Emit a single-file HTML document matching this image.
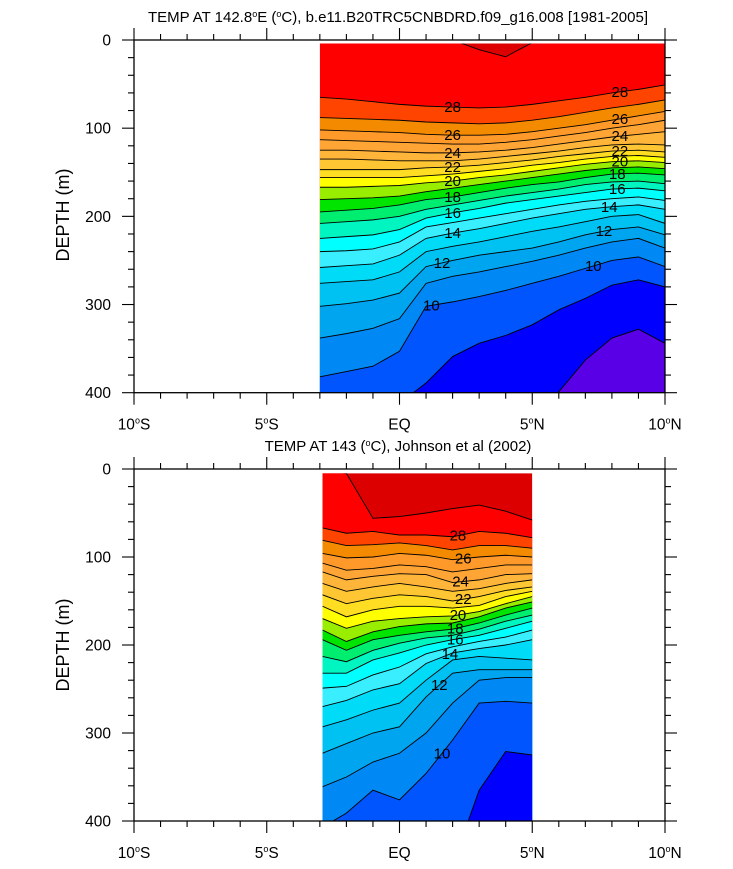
<!DOCTYPE html>
<html><head><meta charset="utf-8">
<style>
html,body{margin:0;padding:0;background:#fff;}
svg{display:block;font-family:"Liberation Sans",Arial,sans-serif;}
</style></head>
<body>
<svg id="chart" width="733" height="869" viewBox="0 0 733 869" xmlns="http://www.w3.org/2000/svg">
<text x="398" y="22" font-size="15" text-anchor="middle">TEMP AT 142.8<tspan dy="-5" font-size="9">o</tspan><tspan dy="5">E (</tspan><tspan dy="-5" font-size="9">o</tspan><tspan dy="5">C), b.e11.B20TRC5CNBDRD.f09_g16.008 [1981-2005]</tspan></text>
<text x="398" y="451" font-size="15" text-anchor="middle">TEMP AT 143 (<tspan dy="-5" font-size="9">o</tspan><tspan dy="5">C), Johnson et al (2002)</tspan></text>
<text transform="translate(69,215) rotate(-90)" font-size="18" text-anchor="middle">DEPTH (m)</text>
<text transform="translate(69,645) rotate(-90)" font-size="18" text-anchor="middle">DEPTH (m)</text>
<g id="top"></g>
<g id="bot"></g>
</svg>
<script>
// ---------- data ----------
const topLats = [-3,-2,-1,0,1,2,3,4,5,6,7,8,9,10];
const topLevels = [29,28,27,26,25,24,23,22,21,20,19,18,17,16,15,14,13,12,11,10,9,8];
const topDepths = [
 [0,0,0,0,0,0,11,19,3,0,0,0,0,0],
 [65,67,70,73,75,76,77,76,73,69,65,60,56,51],
 [88,89,90,91,93,94,95,94,91,87,82,77,73,68],
 [102,103,104,105,107,108,108,107,104,100,96,91,86,81],
 [113,114,115,116,117,118,118,116,113,109,105,100,96,91],
 [125,125,126,127,128,128,127,125,122,118,114,110,107,104],
 [135,135,136,137,137,137,135,132,129,126,122,119,118,119],
 [147,147,147,147,145,144,142,139,136,132,129,126,125,127],
 [156,156,156,156,154,152,149,146,142,139,135,132,131,133],
 [167,167,166,165,162,160,156,153,149,145,141,138,137,139],
 [181,180,179,177,172,168,164,160,156,152,148,145,144,146],
 [195,193,191,187,181,178,173,168,164,161,156,152,151,153],
 [208,206,204,200,192,187,182,177,173,169,164,161,160,163],
 [225,223,221,215,202,196,191,185,181,177,173,169,168,171],
 [240,239,237,229,212,207,202,197,192,187,183,180,178,182],
 [258,256,254,244,225,219,214,208,202,197,192,189,187,192],
 [276,274,272,263,240,234,229,223,217,212,206,200,198,208],
 [302,299,295,287,257,250,244,240,236,229,221,215,212,221],
 [338,333,327,316,276,268,263,257,251,244,236,229,225,236],
 [382,376,370,353,302,297,291,284,276,268,259,250,246,257],
 [450,442,431,412,389,359,344,335,323,306,293,278,272,280],
 [420,420,420,420,420,420,420,420,420,399,363,338,328,344]
];
const topLabelLevels = [28,26,24,22,20,18,16,14,12,10,28,26,24,22,20,18,16,14,12,10];
const topLabelLats =   [2,2,2,2,2,2,2,2,1.6,1.2,8.3,8.3,8.3,8.3,8.3,8.2,8.2,7.9,7.7,7.3];

const botLats = [-2.9,-2,-1,0,1,2,3,4,5];
const botLevels = [29,28,27,26,25,24,23,22,21,20,19,18,17,16,15,14,13,12,11,10,9];
const botDepths = [
 [0,5,56,54,50,45,41,48,58],
 [67,73,71,75,75,77,71,73,78],
 [81,87,86,84,87,92,87,87,90],
 [96,101,100,96,98,103,100,98,100],
 [107,115,113,109,111,117,113,109,109],
 [117,126,122,119,120,129,126,120,119],
 [130,139,134,130,134,139,136,130,126],
 [143,153,147,143,145,150,145,138,134],
 [156,168,160,156,156,158,155,145,139],
 [170,181,173,170,168,167,162,153,145],
 [183,196,185,179,176,175,168,158,151],
 [194,206,194,189,185,182,175,166,158],
 [213,219,206,198,192,189,182,173,166],
 [232,232,217,209,200,194,189,181,173],
 [249,247,234,225,210,202,196,191,183],
 [270,263,251,244,221,209,204,200,194],
 [293,285,274,266,240,217,213,215,217],
 [323,312,300,293,259,232,228,228,228],
 [361,350,333,323,300,266,240,237,237],
 [407,391,365,376,346,308,266,264,266],
 [450,450,450,450,450,450,365,321,325]
];
const botLabelLevels = [28,26,24,22,20,18,16,14,12,10];
const botLabelLats =   [2.2,2.4,2.3,2.4,2.2,2.1,2.1,1.9,1.5,1.6];

const xTickVals = [-10,-5,0,5,10];
const xTickLabels = ["10°S","5°S","EQ","5°N","10°N"];
const yTickVals = [0,100,200,300,400];

const bandColor = {29:"#dc0000",28:"#ff0000",27:"#ff4400",26:"#f48a00",25:"#ff9a2a",24:"#ffa536",23:"#ffb43a",22:"#ffc633",21:"#ffdd22",20:"#ffff00",19:"#99ee00",18:"#00e400",17:"#00ee70",16:"#00f5c0",15:"#00ffff",14:"#38eeff",13:"#00dcf8",12:"#00c2f2",11:"#00a5f0",10:"#0088f5",9:"#0055ff",8:"#0000ff",7:"#5a00e6"};

// ---------- drawing ----------
const NS = "http://www.w3.org/2000/svg";
function mk(tag, attrs, parent){const e=document.createElementNS(NS,tag);for(const k in attrs)e.setAttribute(k,attrs[k]);parent.appendChild(e);return e;}
const xScale = lat => 134 + (lat+10)*26.55;
function interp(lats, ds, lat){
  if(lat<=lats[0])return ds[0];
  for(let i=1;i<lats.length;i++){ if(lat<=lats[i]){const t=(lat-lats[i-1])/(lats[i]-lats[i-1]);return ds[i-1]+t*(ds[i]-ds[i-1]);} }
  return ds[ds.length-1];
}

function drawPanel(g, y0, y1, lats, levels, depths, topDepth, labLevels, labLats, clipId){
  const yScale = d => y0 + d*(y1-y0)/400;
  const xa = xScale(lats[0]), xb = xScale(lats[lats.length-1]);
  const defs = mk("defs",{},g);
  const cp = mk("clipPath",{id:clipId},defs);
  mk("rect",{x:xa,y:yScale(topDepth),width:xb-xa,height:y1-yScale(topDepth)},cp);
  const fills = mk("g",{"clip-path":"url(#"+clipId+")"},g);
  
  
  const warm = mk("rect",{x:xa,y:y0,width:xb-xa,height:y1-y0,fill:bandColor[levels[0]]},fills);
  
  
  levels.forEach((L,i)=>{
    const pts = lats.map((la,j)=>xScale(la)+","+yScale(depths[i][j]));
    const poly = pts.join(" ")+" "+xb+","+(y1+60)+" "+xa+","+(y1+60);
    const p = mk("polygon",{points:poly,fill:bandColor[L-1]},fills);
    
    
  });
  levels.forEach((L,i)=>{
    const pts = lats.map((la,j)=>xScale(la)+","+yScale(depths[i][j])).join(" ");
    const l = mk("polyline",{points:pts,fill:"none",stroke:"#000","stroke-width":0.9},fills);
    
    
  });
  labLevels.forEach((L,k)=>{
    const i = levels.indexOf(L); if(i<0)return;
    const la = labLats[k];
    const d = interp(lats, depths[i], la);
    const t = mk("text",{x:xScale(la),y:yScale(d)+5,"font-size":15,"text-anchor":"middle"},fills);
    t.textContent = String(L);
    
    
  });
  const xl = xScale(-10), xr = xScale(10);
  const fr = mk("rect",{x:xl,y:y0,width:xr-xl,height:y1-y0,fill:"none",stroke:"#000","stroke-width":1.3},g);
  
  
  const ticks = mk("g",{stroke:"#000","stroke-width":1.1},g);
  
  
  for(let lat=-10;lat<=10;lat++){
    const x=xScale(lat), len=(lat%5===0)?12:6;
    mk("line",{x1:x,y1:y1,x2:x,y2:y1+len},ticks);
    mk("line",{x1:x,y1:y0,x2:x,y2:y0-len},ticks);
  }
  for(let d=0;d<=400;d+=20){
    const y=yScale(d), len=(d%100===0)?12:6;
    mk("line",{x1:xl,y1:y,x2:xl-len,y2:y},ticks);
    mk("line",{x1:xr,y1:y,x2:xr+len,y2:y},ticks);
  }
  yTickVals.forEach(v=>{
    const t=mk("text",{x:111,y:yScale(v)+5.5,"font-size":15.5,"text-anchor":"end"},g);
    t.textContent=String(v);
    
    
  });
  xTickVals.forEach((v,k)=>{
    const t=mk("text",{x:xScale(v),y:y1+37,"font-size":15.5,"text-anchor":"middle"},g);
    const s=xTickLabels[k];
    if(s.indexOf("°")>=0){
      const parts=s.split("°");
      t.appendChild(document.createTextNode(parts[0]));
      const sp=mk("tspan",{dy:-6,"font-size":9},t); sp.textContent="o";
      const sp2=mk("tspan",{dy:6},t); sp2.textContent=parts[1];
    } else t.textContent=s;
    
    
  });
}
drawPanel(document.getElementById("top"),40,392.7,topLats,topLevels,topDepths,4,topLabelLevels,topLabelLats,"clipTop");
drawPanel(document.getElementById("bot"),469,821,botLats,botLevels,botDepths,5,botLabelLevels,botLabelLats,"clipBot");
</script>
</body></html>
